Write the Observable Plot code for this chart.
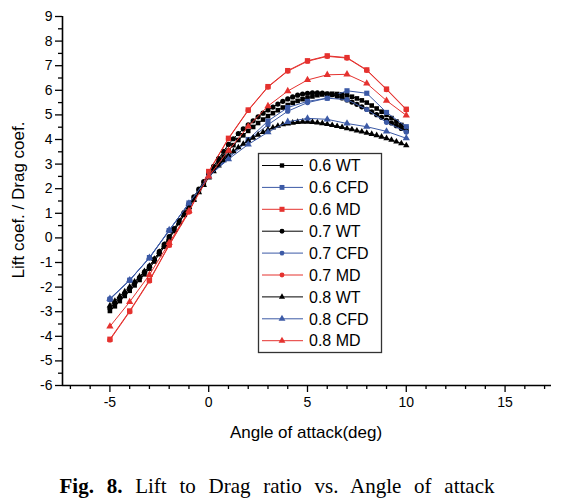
<!DOCTYPE html>
<html><head><meta charset="utf-8">
<script src="https://cdn.jsdelivr.net/npm/d3@7"></script>
<script src="https://cdn.jsdelivr.net/npm/@observablehq/plot@0.6"></script>
<style>
body{margin:0;background:#fff;}
#wrap{position:relative;width:570px;height:503px;overflow:hidden;}
#chart svg{display:block;}
#cap{position:absolute;left:-8px;top:474px;width:570px;text-align:center;font-family:"Liberation Serif","Times New Roman",serif;font-size:21px;word-spacing:7.5px;color:#000;}
</style></head><body><div id="wrap"><div id="chart"></div><div id="cap"><b>Fig. 8.</b> Lift to Drag ratio vs. Angle of attack</div></div>
<script>
// ---- data ----
const seriesNames = ["0.6 WT","0.6 CFD","0.6 MD","0.7 WT","0.7 CFD","0.7 MD","0.8 WT","0.8 CFD","0.8 MD"];

const angles = [-5,-4,-3,-2,-1,0,1,2,3,4,5,6,7,8,9,10];
const wtAngles = [-5,-4.75,-4.5,-4.25,-4,-3.75,-3.5,-3.25,-3,-2.75,-2.5,-2.25,-2,-1.75,-1.5,-1.25,-1,-0.75,-0.5,-0.25,0,0.25,0.5,0.75,1,1.25,1.5,1.75,2,2.25,2.5,2.75,3,3.25,3.5,3.75,4,4.25,4.5,4.75,5,5.25,5.5,5.75,6,6.25,6.5,6.75,7,7.25,7.5,7.75,8,8.25,8.5,8.75,9,9.25,9.5,9.75,10];

const wt06 = [-2.97,-2.78,-2.57,-2.36,-2.15,-1.93,-1.71,-1.48,-1.25,-0.96,-0.66,-0.36,-0.05,0.28,0.6,0.93,1.25,1.56,1.88,2.19,2.5,2.78,3.05,3.31,3.55,3.77,3.98,4.17,4.35,4.51,4.67,4.81,4.95,5.07,5.19,5.3,5.4,5.49,5.57,5.64,5.7,5.75,5.8,5.83,5.85,5.86,5.85,5.83,5.8,5.74,5.67,5.59,5.5,5.38,5.26,5.13,5.0,4.87,4.73,4.59,4.45];
const wt07 = [-2.85,-2.66,-2.46,-2.26,-2.05,-1.83,-1.61,-1.38,-1.15,-0.86,-0.56,-0.26,0.05,0.38,0.7,1.03,1.35,1.67,1.98,2.29,2.6,2.91,3.22,3.52,3.8,4.03,4.24,4.43,4.6,4.76,4.92,5.07,5.2,5.32,5.44,5.55,5.65,5.73,5.8,5.85,5.88,5.9,5.9,5.89,5.86,5.82,5.76,5.69,5.61,5.52,5.43,5.33,5.23,5.12,5.01,4.9,4.78,4.67,4.56,4.45,4.33];
const wt08 = [-2.75,-2.56,-2.37,-2.18,-1.99,-1.78,-1.57,-1.36,-1.14,-0.86,-0.57,-0.28,0.0,0.32,0.63,0.94,1.25,1.55,1.85,2.15,2.45,2.7,2.94,3.15,3.35,3.52,3.68,3.82,3.95,4.07,4.19,4.3,4.4,4.48,4.55,4.61,4.65,4.68,4.71,4.72,4.72,4.71,4.69,4.66,4.62,4.58,4.54,4.5,4.45,4.41,4.36,4.32,4.27,4.22,4.17,4.11,4.05,3.98,3.91,3.84,3.76];

const cfd06 = [-2.5,-1.72,-0.8,0.3,1.42,2.5,3.3,4.0,4.75,5.3,5.55,5.68,5.98,5.88,5.1,4.52];
const cfd07 = [-2.48,-1.72,-0.82,0.3,1.4,2.5,3.25,3.95,4.6,5.15,5.5,5.68,5.62,5.22,4.7,4.3];
const cfd08 = [-2.47,-1.72,-0.8,0.32,1.4,2.5,3.2,3.8,4.3,4.72,4.86,4.82,4.65,4.52,4.33,4.05];

const md06 = [-4.12,-2.97,-1.72,-0.28,1.08,2.7,4.05,5.2,6.15,6.8,7.2,7.4,7.33,6.83,6.05,5.23];
const md07 = [-4.15,-3.0,-1.75,-0.3,1.05,2.68,4.03,5.18,6.13,6.78,7.18,7.38,7.31,6.81,6.03,5.21];
const md08 = [-3.6,-2.6,-1.5,-0.2,1.1,2.5,3.55,4.53,5.36,5.97,6.42,6.63,6.65,6.28,5.58,4.98];

const xMajorTicks = [-5,0,5,10,15];
const xMinorTicks = [-7,-6,-4,-3,-2,-1,1,2,3,4,6,7,8,9,11,12,13,14,16,17];
const yMajorTicks = [-6,-5,-4,-3,-2,-1,0,1,2,3,4,5,6,7,8,9];
const yMinorTicks = [-5.5,-4.5,-3.5,-2.5,-1.5,-0.5,0.5,1.5,2.5,3.5,4.5,5.5,6.5,7.5,8.5];

const xTitle = "Angle of attack(deg)";
const yTitle = "Lift coef. / Drag coef.";

// ---- styles ----
const BLACK = "#000000", BLUE = "#3c5aa6", RED = "#e5322f";
const seriesData = {
  "0.6 WT": [wtAngles, wt06], "0.6 CFD": [angles, cfd06], "0.6 MD": [angles, md06],
  "0.7 WT": [wtAngles, wt07], "0.7 CFD": [angles, cfd07], "0.7 MD": [angles, md07],
  "0.8 WT": [wtAngles, wt08], "0.8 CFD": [angles, cfd08], "0.8 MD": [angles, md08]
};
const style = {
  "0.6 WT": {c: BLACK, s: "square", r: 2.6},
  "0.6 CFD": {c: BLUE, s: "square", r: 2.9},
  "0.6 MD": {c: RED, s: "square", r: 3.0},
  "0.7 WT": {c: BLACK, s: "circle", r: 2.6},
  "0.7 CFD": {c: BLUE, s: "circle", r: 2.6},
  "0.7 MD": {c: RED, s: "circle", r: 2.6},
  "0.8 WT": {c: BLACK, s: "triangle", r: 2.4},
  "0.8 CFD": {c: BLUE, s: "triangle", r: 2.7},
  "0.8 MD": {c: RED, s: "triangle", r: 2.7}
};

const rows = [];
for (const name of seriesNames) {
  const [xa, ya] = seriesData[name];
  xa.forEach((x, i) => rows.push({series: name, x, y: ya[i]}));
}

const FONT = "Liberation Sans, Arial, Helvetica, sans-serif";
const marks = [];
for (const name of seriesNames) {
  const st = style[name];
  const d = rows.filter(r => r.series === name);
  marks.push(Plot.line(d, {x: "x", y: "y", stroke: st.c, strokeWidth: 1}));
  marks.push(Plot.dot(d, {x: "x", y: "y", symbol: () => st.s, fill: st.c, stroke: "none", r: st.r}));
}

const fmt = d => String(d);
const chart = Plot.plot({
  width: 570, height: 450,
  marginLeft: 62, marginRight: 19, marginTop: 16, marginBottom: 65,
  style: {fontFamily: FONT, background: "#fff", color: "#000", overflow: "visible"},
  x: {domain: [-7.4, 17.35], label: null},
  y: {domain: [-6, 9], label: null},
  symbol: {type: "identity"},
  marks: [
    Plot.axisX(xMinorTicks, {tickSize: 4, tickFormat: () => "", strokeWidth: 1.3, label: null}),
    Plot.axisX(xMajorTicks, {tickSize: 7, tickPadding: 5, tickFormat: fmt, strokeWidth: 1.3, fontSize: 14, label: null}),
    Plot.axisY(yMinorTicks, {tickSize: 4, tickFormat: () => "", strokeWidth: 1.3, label: null}),
    Plot.axisY(yMajorTicks, {tickSize: 7, tickPadding: 3, tickFormat: fmt, strokeWidth: 1.3, fontSize: 14, label: null}),
    ...marks,
    Plot.ruleY([-6], {strokeWidth: 1.6}),
    Plot.ruleX([-7.4], {strokeWidth: 1.6})
  ]
});
document.getElementById("chart").appendChild(chart);

const svg = d3.select(chart);
// axis titles
svg.append("text").attr("x", 306).attr("y", 438).attr("text-anchor", "middle")
  .attr("font-family", FONT).attr("font-size", 17).text(xTitle);
svg.append("text").attr("transform", "translate(24,200) rotate(-90)").attr("text-anchor", "middle")
  .attr("font-family", FONT).attr("font-size", 17).text(yTitle);

// legend
const lg = svg.append("g");
lg.append("rect").attr("x", 258.5).attr("y", 153.5).attr("width", 123).attr("height", 199)
  .attr("fill", "#fff").attr("stroke", "#333").attr("stroke-width", 1.3);
const symGen = {square: d3.symbolSquare, circle: d3.symbolCircle, triangle: d3.symbolTriangle};
seriesNames.forEach((name, i) => {
  const st = style[name];
  const yy = 165.5 + i * 21.9;
  lg.append("line").attr("x1", 262).attr("x2", 303).attr("y1", yy).attr("y2", yy)
    .attr("stroke", st.c).attr("stroke-width", 1);
  lg.append("path").attr("transform", `translate(282,${yy})`)
    .attr("d", d3.symbol(symGen[st.s], Math.PI * st.r * st.r * 0.9)()).attr("fill", st.c);
  lg.append("text").attr("x", 309).attr("y", yy).attr("dy", "0.36em").attr("text-anchor", "start")
    .attr("font-family", FONT).attr("font-size", 16).text(name);
});
</script></body></html>
